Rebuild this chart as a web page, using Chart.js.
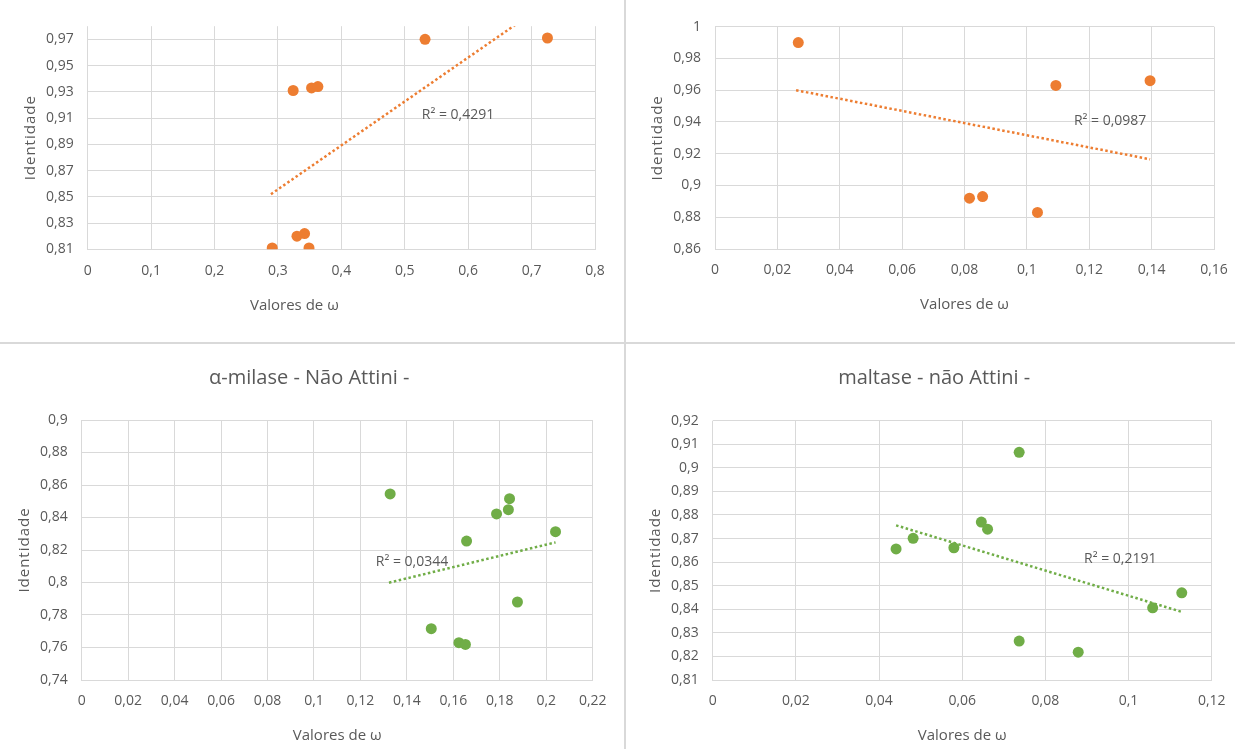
<!DOCTYPE html>
<html>
<head>
<meta charset="utf-8">
<script src="https://cdn.jsdelivr.net/npm/chart.js@4.4.1/dist/chart.umd.min.js"></script>
<style>
  html, body { margin: 0; padding: 0; background: #fff; }
  body { width: 1235px; height: 749px; position: relative; overflow: hidden; }
  .painel { position: absolute; }
  .divisor { position: absolute; background: #d9d9d9; }
</style>
</head>
<body>
<div class="painel" style="left:0;top:0"><canvas id="g1" width="624" height="342"></canvas></div>
<div class="painel" style="left:627px;top:0"><canvas id="g2" width="608" height="342"></canvas></div>
<div class="painel" style="left:0;top:345px"><canvas id="g3" width="624" height="404"></canvas></div>
<div class="painel" style="left:627px;top:345px"><canvas id="g4" width="608" height="404"></canvas></div>
<div class="divisor" style="left:624px;top:0;width:2px;height:749px"></div>
<div class="divisor" style="left:0;top:342px;width:1235px;height:2px"></div>

<script>
  /* ── Dados ── */
  // painel 1 (laranja, sem título)
  const omega1 = [0.291, 0.324, 0.330, 0.342, 0.349, 0.353, 0.363, 0.532, 0.725];
  const ident1 = [0.811, 0.931, 0.820, 0.822, 0.811, 0.933, 0.934, 0.970, 0.971];
  const tend1X = [0.289, 0.725];
  const tend1Y = [0.852, 0.998];
  const xTicks1 = [0, 0.1, 0.2, 0.3, 0.4, 0.5, 0.6, 0.7, 0.8];
  const yTicks1 = [0.81, 0.83, 0.85, 0.87, 0.89, 0.91, 0.93, 0.95, 0.97];

  // painel 2 (laranja, sem título)
  const omega2 = [0.0267, 0.0816, 0.0858, 0.1034, 0.1093, 0.1395];
  const ident2 = [0.990, 0.892, 0.893, 0.883, 0.963, 0.966];
  const tend2X = [0.026, 0.1395];
  const tend2Y = [0.960, 0.9165];
  const xTicks2 = [0, 0.02, 0.04, 0.06, 0.08, 0.1, 0.12, 0.14, 0.16];
  const yTicks2 = [0.86, 0.88, 0.9, 0.92, 0.94, 0.96, 0.98, 1];

  // painel 3: α-milase
  const omega3 = [0.1328, 0.1505, 0.1624, 0.1652, 0.1657, 0.1786, 0.1837, 0.1842, 0.1876, 0.204];
  const ident3 = [0.8545, 0.7716, 0.763, 0.7619, 0.8255, 0.8422, 0.8448, 0.8516, 0.788, 0.8313];
  const tend3X = [0.1323, 0.204];
  const tend3Y = [0.7999, 0.8247];
  const xTicks3 = [0, 0.02, 0.04, 0.06, 0.08, 0.1, 0.12, 0.14, 0.16, 0.18, 0.2, 0.22];
  const yTicks3 = [0.74, 0.76, 0.78, 0.8, 0.82, 0.84, 0.86, 0.88, 0.9];

  // painel 4: maltase
  const omega4 = [0.0441, 0.0482, 0.058, 0.0646, 0.0661, 0.0737, 0.0737, 0.0879, 0.1058, 0.1128];
  const ident4 = [0.8656, 0.8701, 0.8661, 0.877, 0.874, 0.9066, 0.8265, 0.8218, 0.8406, 0.847];
  const tend4X = [0.0441, 0.1128];
  const tend4Y = [0.8756, 0.8389];
  const xTicks4 = [0, 0.02, 0.04, 0.06, 0.08, 0.1, 0.12];
  const yTicks4 = [0.81, 0.82, 0.83, 0.84, 0.85, 0.86, 0.87, 0.88, 0.89, 0.9, 0.91, 0.92];

  const LARANJA = '#ED7D31';
  const VERDE = '#70AD47';
  const CINZA = '#595959';
  const GRADE = '#d9d9d9';

  Chart.defaults.font.family = '"Open Sans", sans-serif';
  Chart.defaults.color = CINZA;

  const fmt = v => String(+Number(v).toFixed(3)).replace('.', ',');
  const pares = (xs, ys) => xs.map((x, i) => ({ x, y: ys[i] }));

  /* ── Textos extras: título, eixos, R² ── */
  const textos = {
    id: 'textos',
    afterDraw(chart, args, o) {
      const { ctx, chartArea: a, scales } = chart;
      const meio = (a.left + a.right) / 2;
      ctx.save();
      ctx.fillStyle = CINZA;
      ctx.textAlign = 'center';
      ctx.textBaseline = 'middle';
      if (o.titulo) {
        ctx.font = '20px "Open Sans"';
        ctx.fillText(o.titulo, meio - 28, a.top - 42);
      }
      ctx.font = '15px "Open Sans"';
      ctx.fillText('Valores de ω', meio + (o.desvioX || 0), a.bottom + 56);
      ctx.save();
      ctx.translate(a.left - 57, (a.top + a.bottom) / 2);
      ctx.rotate(-Math.PI / 2);
      ctx.letterSpacing = '1px';
      ctx.fillText('Identidade', 0, 0);
      ctx.restore();
      ctx.font = '14px "Open Sans"';
      ctx.fillText(o.r2, scales.x.getPixelForValue(o.r2x), scales.y.getPixelForValue(o.r2y));
      ctx.restore();
    }
  };

  function criarGrafico(id, c) {
    return new Chart(document.getElementById(id), {
      type: 'scatter',
      data: {
        datasets: [
          {
            data: pares(c.tendX, c.tendY),
            showLine: true, pointRadius: 0,
            borderColor: c.cor, borderWidth: 2.5, borderDash: [2.5, 2.5]
          },
          {
            data: pares(c.omega, c.ident),
            pointRadius: 5.5, pointBorderWidth: 0,
            backgroundColor: c.cor, borderColor: c.cor
          }
        ]
      },
      options: {
        responsive: false,
        animation: false,
        layout: { padding: c.padding },
        plugins: {
          legend: { display: false },
          tooltip: { enabled: false },
          textos: c.textos
        },
        scales: {
          x: {
            type: 'linear', min: 0, max: c.xTicks[c.xTicks.length - 1],
            afterBuildTicks: s => { s.ticks = c.xTicks.map(v => ({ value: v })); },
            afterFit: s => { s.height = 40; s.paddingLeft = 0; s.paddingRight = 0; },
            ticks: { callback: fmt, padding: 13, autoSkip: false, maxRotation: 0, font: { size: 14 } },
            grid: { color: GRADE, drawTicks: false },
            border: { display: true, color: GRADE }
          },
          y: {
            type: 'linear', min: c.yMin, max: c.yMax,
            afterBuildTicks: s => { s.ticks = c.yTicks.map(v => ({ value: v })); },
            afterFit: s => { s.width = 60; s.paddingTop = 0; s.paddingBottom = 0; },
            ticks: { callback: fmt, padding: 14, autoSkip: false, font: { size: 14 } },
            grid: { color: GRADE, drawTicks: false },
            border: { display: false }
          }
        }
      },
      plugins: [textos]
    });
  }

  /* ── Init ── */
  criarGrafico('g1', {
    omega: omega1, ident: ident1, tendX: tend1X, tendY: tend1Y, cor: LARANJA,
    xTicks: xTicks1, yTicks: yTicks1, yMin: 0.81, yMax: 0.98,
    padding: { left: 27.7, right: 29, top: 26.2, bottom: 52.7 },
    textos: { r2: 'R² = 0,4291', r2x: 0.584, r2y: 0.9123, desvioX: -47 }
  });
  criarGrafico('g2', {
    omega: omega2, ident: ident2, tendX: tend2X, tendY: tend2Y, cor: LARANJA,
    xTicks: xTicks2, yTicks: yTicks2, yMin: 0.86, yMax: 1,
    padding: { left: 28, right: 21, top: 26.7, bottom: 53 },
    textos: { r2: 'R² = 0,0987', r2x: 0.1267, r2y: 0.9408 }
  });
  criarGrafico('g3', {
    omega: omega3, ident: ident3, tendX: tend3X, tendY: tend3Y, cor: VERDE,
    xTicks: xTicks3, yTicks: yTicks3, yMin: 0.74, yMax: 0.9,
    padding: { left: 21.7, right: 31.3, top: 75, bottom: 29 },
    textos: { titulo: 'α-milase - Não Attini -', r2: 'R² = 0,0344', r2x: 0.1422, r2y: 0.8128 }
  });
  criarGrafico('g4', {
    omega: omega4, ident: ident4, tendX: tend4X, tendY: tend4Y, cor: VERDE,
    xTicks: xTicks4, yTicks: yTicks4, yMin: 0.81, yMax: 0.92,
    padding: { left: 25.7, right: 23.3, top: 75.7, bottom: 29 },
    textos: { titulo: 'maltase - não Attini -', r2: 'R² = 0,2191', r2x: 0.098, r2y: 0.8612 }
  });
</script>
</body>
</html>
